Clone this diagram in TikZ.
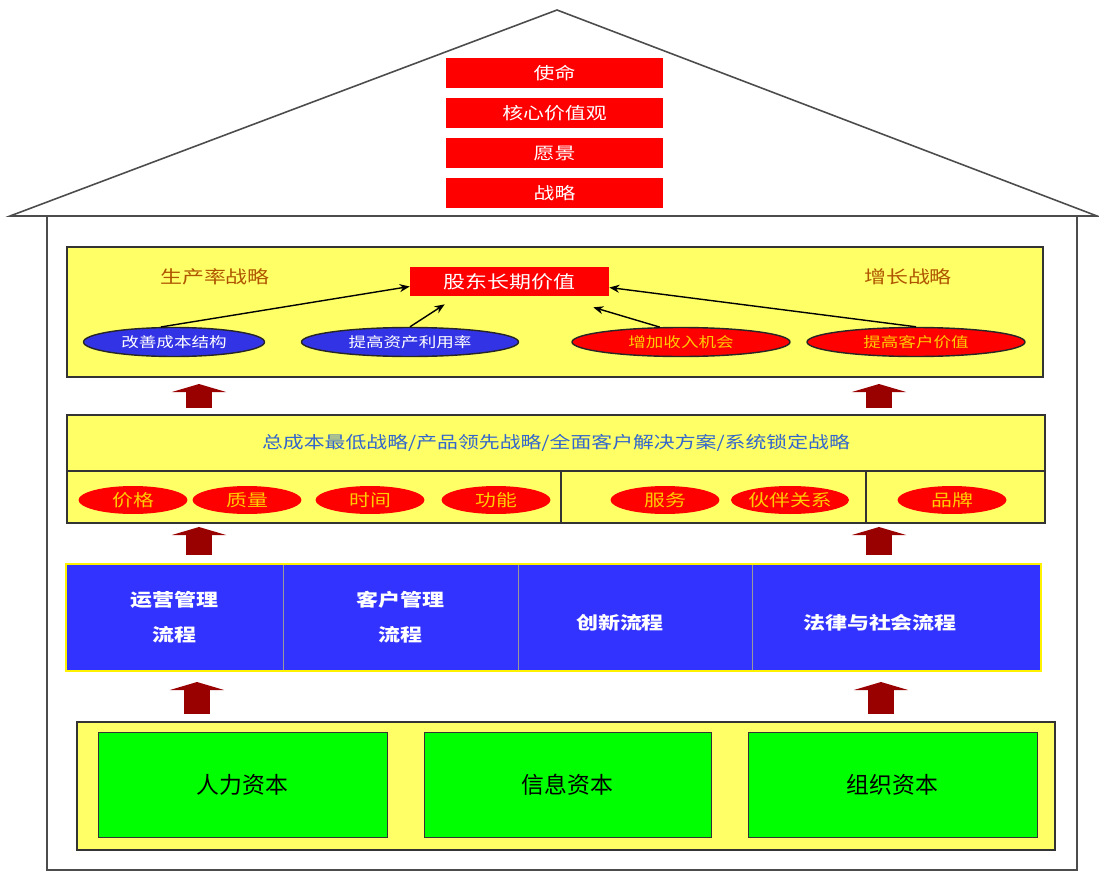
\documentclass[tikz,border=0pt]{standalone}
\usepackage{fontspec}
\setmainfont{Noto Sans CJK SC}[FakeStretch=1.25]
\newfontfamily\cjkplain{Noto Sans CJK SC}
\usetikzlibrary{arrows.meta, shapes.geometric, fit}
\definecolor{huang}{RGB}{255,255,102}
\definecolor{hong}{RGB}{255,0,0}
\definecolor{lan}{RGB}{51,51,255}
\definecolor{lanoval}{RGB}{51,51,230}
\definecolor{lv}{RGB}{0,255,0}
\definecolor{zong}{RGB}{175,85,0}
\definecolor{jin}{RGB}{255,204,0}
\definecolor{wenlan}{RGB}{51,102,204}
\definecolor{anhong}{RGB}{153,0,0}
\tikzset{
  wall/.style={draw=black!70, line width=0.9pt},
  panel/.style={draw=black!80, fill=huang, line width=0.8pt, inner sep=0pt},
  redbar/.style={fill=hong, text=white, inner sep=0pt, minimum width=4.34cm,
    minimum height=0.6cm, font=\fontsize{9.5}{11}\selectfont},
  oval/.style={ellipse, draw=black!85, line width=0.8pt, inner sep=0pt,
    minimum height=0.58cm, font=\fontsize{8}{10}\selectfont},
  blueoval/.style={oval, fill=lanoval, text=white},
  redoval/.style={oval, fill=hong, text=jin},
  smalloval/.style={ellipse, fill=hong, text=jin, inner sep=0pt, minimum width=2.18cm,
    minimum height=0.56cm, font=\fontsize{9.5}{11}\selectfont},
  proc/.style={draw=black!40, fill=lan, text=white, inner sep=0pt, minimum height=2.14cm,
    align=center, font=\fontsize{10}{20}\selectfont\bfseries},
  capital/.style={draw=black!80, fill=lv, inner sep=0pt, minimum width=5.78cm,
    minimum height=2.1cm, font=\cjkplain\fontsize{13}{15}\selectfont},
  seta/.style={-{Stealth[length=0.2cm, width=0.16cm]}, line width=0.8pt},
  blockarrow/.style={anhong, line width=0.52cm,
    -{Triangle[width=1.08cm, length=0.16cm, color=anhong]}},
}
\begin{document}
\begin{tikzpicture}[x=0.02cm, y=-0.02cm]
\useasboundingbox (0,0) rectangle (1099,872);

\draw[wall] (10,216) -- (557,10) -- (1097,216) -- cycle;
\draw[wall] (47,216) -- (47,870) -- (1077,870) -- (1077,216);

\node[redbar] (mission) at (554.5,73) {使命};
\node[redbar] (values) at (554.5,113) {核心价值观};
\node[redbar] (vision) at (554.5,153) {愿景};
\node[redbar] (strategy) at (554.5,193) {战略};

\node[panel, minimum width=19.52cm, minimum height=2.6cm] (goal) at (555,312) {};
\node[redbar, minimum width=3.98cm, minimum height=0.58cm, font=\fontsize{10}{12}\selectfont]
  (value) at (509.5,281.5) {股东长期价值};
\node[text=zong, font=\fontsize{10}{12}\selectfont] (prodtxt) at (215,277) {生产率战略};
\node[text=zong, font=\fontsize{10}{12}\selectfont] (growtxt) at (908,277) {增长战略};

\node[blueoval, minimum width=3.62cm] (cost) at (174,342) {改善成本结构};
\node[blueoval, minimum width=4.34cm] (asset) at (410,342) {提高资产利用率};
\node[redoval, minimum width=4.36cm] (income) at (681,342) {增加收入机会};
\node[redoval, minimum width=4.36cm] (custval) at (916,342) {提高客户价值};

\draw[seta] (cost.131) -- ([yshift=-0.1cm]value.west);
\draw[seta] (asset.north) -- ([shift={(0.7cm,-0.16cm)}]value.south west);
\draw[seta] (income.145) -- ([shift={(-0.32cm,-0.22cm)}]value.south east);
\draw[seta] (custval.north) -- ([yshift=-0.12cm]value.east);

\node[panel, minimum width=19.56cm, minimum height=1.12cm, text=wenlan,
  font=\fontsize{9.5}{11}\selectfont] (stratline) at (556,443)
  {总成本最低战略/产品领先战略/全面客户解决方案/系统锁定战略};
\node[panel, minimum width=9.88cm, minimum height=1.04cm] (cellone) at (314,497) {};
\node[panel, minimum width=6.1cm, minimum height=1.04cm] (celltwo) at (713.5,497) {};
\node[panel, minimum width=3.58cm, minimum height=1.04cm] (cellthree) at (955.5,497) {};

\node[smalloval] (price) at (133,500) {价格};
\node[smalloval] (quality) at (247,500) {质量};
\node[smalloval] (time) at (370,500) {时间};
\node[smalloval] (function) at (496,500) {功能};
\node[smalloval] (service) at (665,500) {服务};
\node[smalloval] (partner) at (790,500) {伙伴关系};
\node[smalloval] (brand) at (952,500) {品牌};

\node[proc, minimum width=4.34cm] (ops) at (174.5,617.5) {运营管理\\流程};
\node[proc, minimum width=4.7cm] (custproc) at (400.5,617.5) {客户管理\\流程};
\node[proc, minimum width=4.68cm] (innov) at (635,617.5) {};
\node[proc, minimum width=5.78cm] (legal) at (896.5,617.5) {};
\node[text=white, font=\fontsize{10}{12}\selectfont\bfseries] (innovtxt) at (620,623) {创新流程};
\node[text=white, font=\fontsize{10}{12}\selectfont\bfseries] (legaltxt) at (880,623) {法律与社会流程};
\node[fit=(ops)(legal), draw=yellow, line width=1.2pt, inner sep=0pt] (procframe) {};

\node[panel, minimum width=19.56cm, minimum height=2.56cm] (base) at (566,786) {};
\node[capital] (human) at (242.5,784.5) {人力资本};
\node[capital, minimum width=5.74cm] (info) at (567.5,784.5) {信息资本};
\node[capital] (org) at (892.5,784.5) {组织资本};

\coordinate (a1s) at (199,408);
\coordinate (a1e) at (199,384);
\coordinate (a2s) at (879,408);
\coordinate (a2e) at (879,384);
\coordinate (b1s) at (199,555);
\coordinate (b1e) at (199,527);
\coordinate (b2s) at (879,555);
\coordinate (b2e) at (879,527);
\coordinate (c1s) at (197,714);
\coordinate (c1e) at (197,682);
\coordinate (c2s) at (881,714);
\coordinate (c2e) at (881,682);
\draw[blockarrow] (a1s) -- (a1e);
\draw[blockarrow] (a2s) -- (a2e);
\draw[blockarrow] (b1s) -- (b1e);
\draw[blockarrow] (b2s) -- (b2e);
\draw[blockarrow] (c1s) -- (c1e);
\draw[blockarrow] (c2s) -- (c2e);

\end{tikzpicture}
\end{document}
